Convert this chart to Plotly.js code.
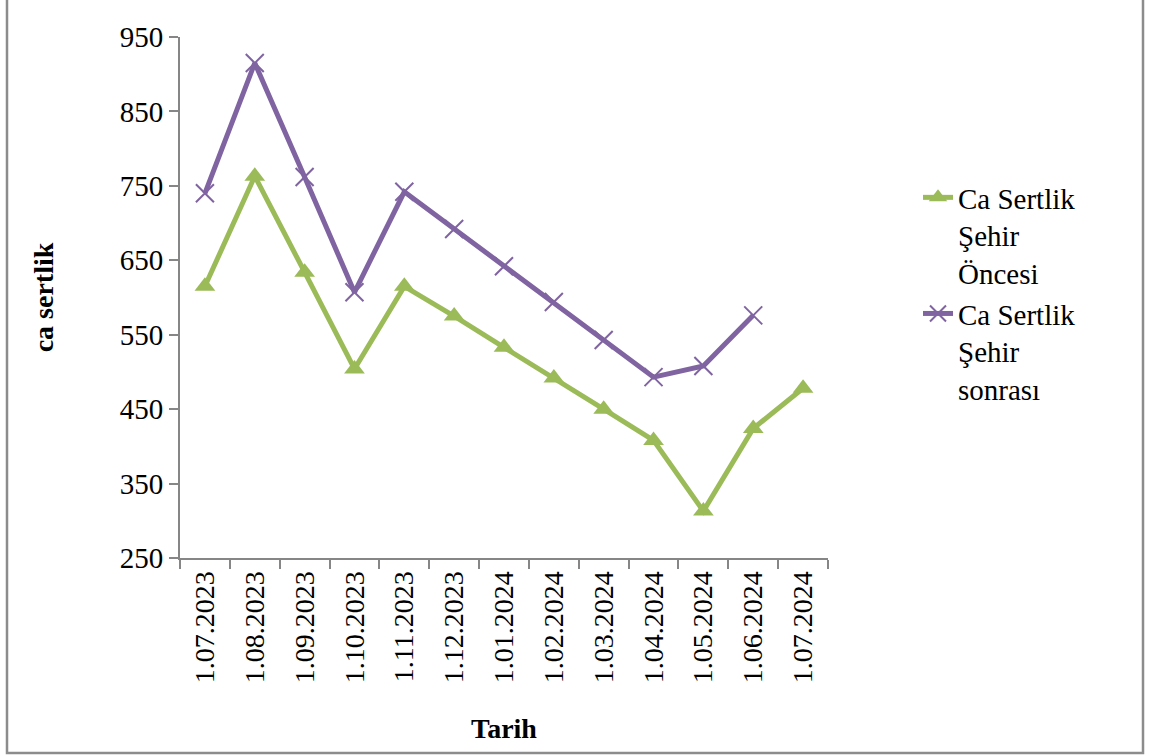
<!DOCTYPE html>
<html>
<head>
<meta charset="utf-8">
<script src="https://cdn.plot.ly/plotly-3.0.1.min.js"></script>
<style>html,body{margin:0;padding:0;background:#fff;}#chart{width:1150px;height:756px;}</style>
</head>
<body>
<div id="chart"></div>
<script>
const dates = ["1.07.2023","1.08.2023","1.09.2023","1.10.2023","1.11.2023","1.12.2023","1.01.2024","1.02.2024","1.03.2024","1.04.2024","1.05.2024","1.06.2024","1.07.2024"];
const onceValues = [615, 763, 634, 504, 615, 575, 533, 492, 450, 408, 313, 424, 478];
const sonraValues = [740, 915, 762, 607, 742, 692, 642, 594, 543, 493, 508, 576, null];
const seriesNames = ["Ca Sertlik<br>Şehir<br>Öncesi", "Ca Sertlik<br>Şehir<br>sonrası"];
const yTicks = [250, 350, 450, 550, 650, 750, 850, 950];

const L = 180, R = 828, T = 37, B = 558, W = 1150, H = 756;
const px = v => (v - L) / (R - L);
const py = v => (B - v) / (B - T);
const font = "Liberation Serif";

const traces = [
  {x: dates, y: onceValues, name: seriesNames[0], type: "scatter", mode: "lines+markers",
   line: {color: "#9BBB59", width: 5},
   marker: {symbol: "triangle-up", size: 18, color: "#9BBB59"}},
  {x: dates, y: sonraValues, name: seriesNames[1], type: "scatter", mode: "lines+markers",
   line: {color: "#8064A2", width: 5},
   marker: {symbol: "x-thin-open", size: 18, color: "#8064A2", line: {color: "#8064A2", width: 2}}}
];

const layout = {
  width: W, height: H,
  margin: {l: L, r: W - R, t: T, b: H - B},
  paper_bgcolor: "#fff", plot_bgcolor: "#fff",
  font: {family: font, size: 29, color: "#000"},
  showlegend: true,
  legend: {x: px(918), y: py(172), xanchor: "left", yanchor: "top", valign: "top",
           font: {family: font, size: 29, color: "#000"}, tracegroupgap: 0, bgcolor: "rgba(0,0,0,0)"},
  xaxis: {type: "category", tickson: "boundaries", ticks: "outside", ticklen: 9, tickcolor: "#868686",
          tickwidth: 2, showline: true, linecolor: "#868686", linewidth: 2, showgrid: false, zeroline: false,
          tickangle: -90, tickfont: {family: font, size: 28, color: "#000"},
          range: [-0.5, 12.5],
          title: {text: "<b>Tarih</b>", font: {family: font, size: 28, color: "#000"}, standoff: 36}},
  yaxis: {range: [250, 950], tickvals: yTicks, ticks: "outside", ticklen: 9, tickcolor: "#868686", tickwidth: 2,
          showline: true, linecolor: "#868686", linewidth: 2, showgrid: false, zeroline: false,
          tickfont: {family: font, size: 29, color: "#000"},
          title: {text: "<b>ca sertlik</b>", font: {family: font, size: 28, color: "#000"}, standoff: 58}},
  shapes: [
    {type: "rect", xref: "paper", yref: "paper", x0: px(7), x1: px(1143), y0: py(753), y1: py(-10),
     line: {color: "#8c8c8c", width: 2.5}, fillcolor: "rgba(0,0,0,0)", layer: "below"}
  ]
};

Plotly.newPlot("chart", traces, layout, {displayModeBar: false, staticPlot: true});
</script>
</body>
</html>
